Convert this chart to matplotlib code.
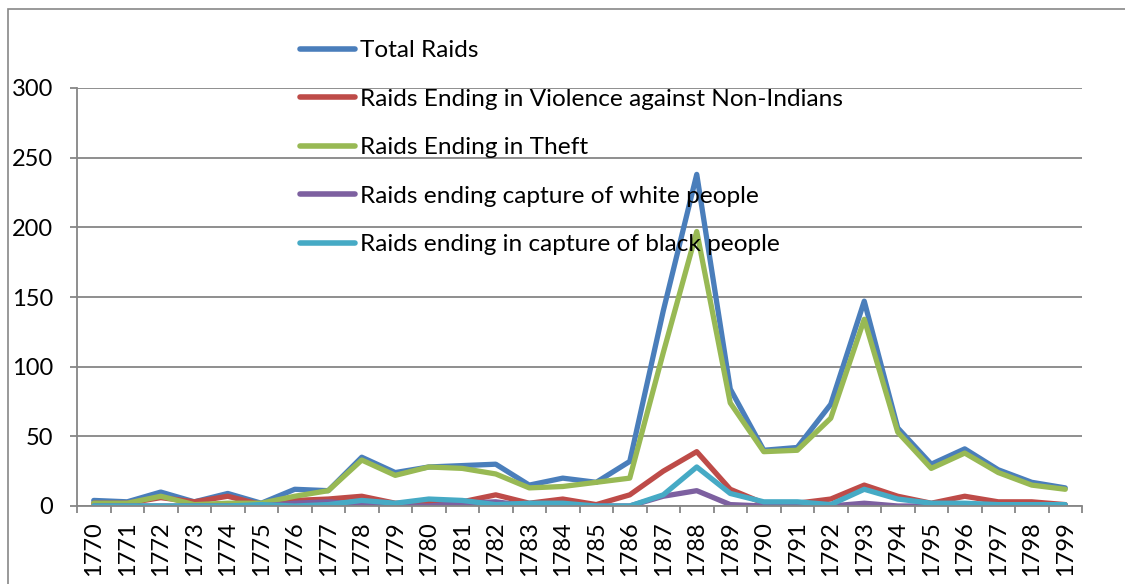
import matplotlib
matplotlib.use("Agg")
import matplotlib.pyplot as plt
from matplotlib.patches import Rectangle

years = [str(y) for y in range(1770, 1800)]

total_raids = [4, 3, 10, 3, 9, 2, 12, 11, 35, 24, 28, 29, 30, 15, 20, 17, 32,
               140, 238, 84, 40, 42, 73, 147, 56, 30, 41, 26, 17, 13]
violence = [2, 2, 6, 3, 7, 1, 4, 5, 7, 2, 2, 3, 8, 2, 5, 1, 8,
            25, 39, 12, 2, 2, 5, 15, 7, 2, 7, 3, 3, 1]
theft = [2, 2, 7, 1, 2, 2, 7, 11, 33, 22, 28, 27, 23, 13, 14, 17, 20,
         110, 197, 74, 39, 40, 63, 134, 53, 27, 38, 24, 15, 12]
capture_white = [0, 0, 0, 0, 0, 0, 2, 3, 1, 0, 0, 2, 3, 0, 0, 0, 0,
                 7, 11, 1, 0, 1, 0, 2, 0, 0, 0, 0, 0, 0]
capture_black = [0, 0, 0, 0, 0, 1, 0, 1, 4, 2, 5, 4, 1, 2, 2, 0, 0,
                 8, 28, 9, 3, 3, 1, 12, 5, 2, 2, 1, 1, 1]

series = [
    ("Total Raids", total_raids, "#4A7EBB"),
    ("Raids Ending in Violence against Non-Indians", violence, "#BE4B48"),
    ("Raids Ending in Theft", theft, "#98B954"),
    ("Raids ending capture of white people", capture_white, "#7D60A0"),
    ("Raids ending in capture of black people", capture_black, "#46AAC5"),
]

plt.rcParams["font.family"] = ["Lato", "DejaVu Sans"]
W, H = 1125, 584
fig = plt.figure(figsize=(W / 100, H / 100), dpi=100)

# outer chart border
fig.patches.append(Rectangle((8 / W, -0.1), 1.2, 1 - 9 / H + 0.1,
                             transform=fig.transFigure, fill=False,
                             edgecolor="#878787", linewidth=1.2))

ax = fig.add_axes([77 / W, 1 - 506 / H, (1082 - 77) / W, (506 - 88) / H])
x = list(range(len(years)))
for name, vals, col in series:
    ax.plot(x, vals, color=col, linewidth=3.8, label=name,
            solid_capstyle="round", solid_joinstyle="round")

ax.set_xlim(-0.5, len(years) - 0.5)
ax.set_ylim(0, 300)
ax.set_yticks(range(0, 301, 50))
ax.yaxis.grid(True, color="#868686", linewidth=1.3)
ax.set_axisbelow(True)

ax.set_xticks(x)
ax.set_xticklabels(years, rotation=90, fontsize=17)
ax.set_xticks([i - 0.5 for i in range(len(years) + 1)], minor=True)
ax.tick_params(axis="x", which="major", length=0, pad=11)
ax.tick_params(axis="x", which="minor", length=5, width=1.3, color="#868686")
ax.tick_params(axis="y", length=5, width=1.3, color="#868686", pad=12,
               labelsize=17)

for s in ("top", "right"):
    ax.spines[s].set_visible(False)
for s in ("left", "bottom"):
    ax.spines[s].set_color("#868686")
    ax.spines[s].set_linewidth(1.3)

leg = ax.legend(loc="upper left", bbox_to_anchor=(300 / W, 1 - 40 / H),
                bbox_transform=fig.transFigure, frameon=False, fontsize=17.6,
                handlelength=2.25, handletextpad=0.2, labelspacing=1.12,
                borderpad=0, borderaxespad=0)
for line in leg.get_lines():
    line.set_linewidth(4)

fig.savefig("out.png", dpi=100)
